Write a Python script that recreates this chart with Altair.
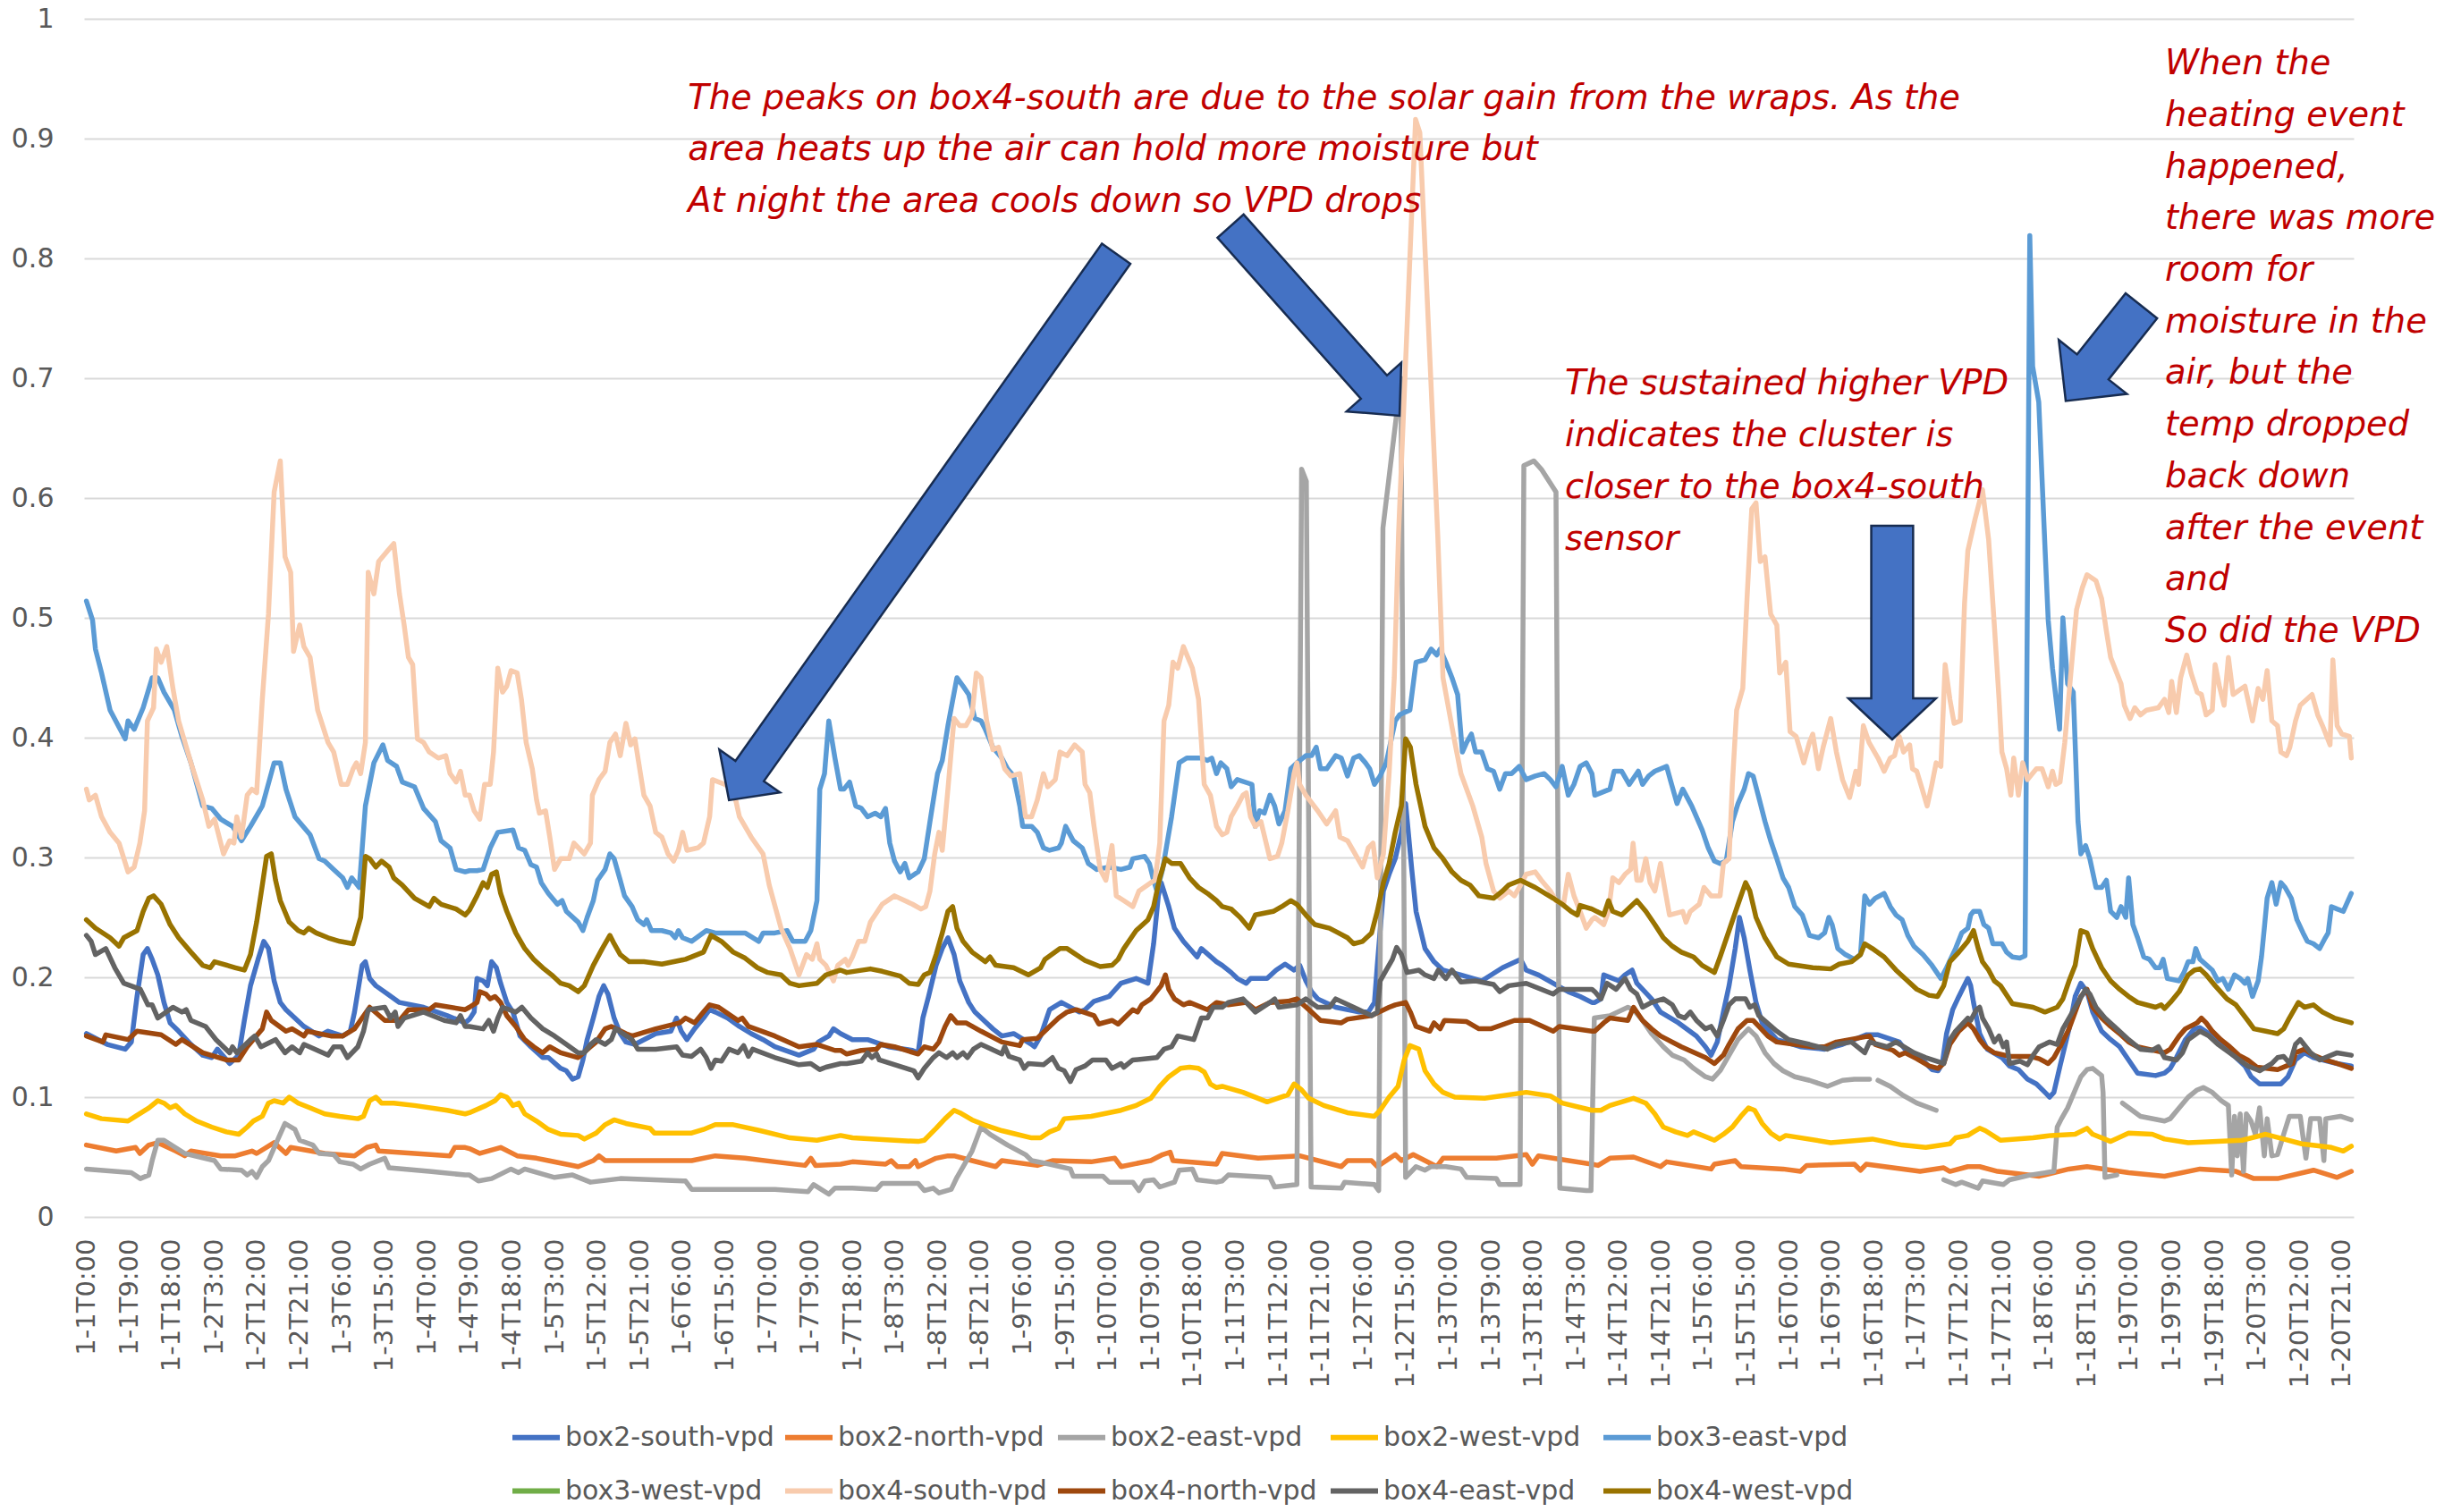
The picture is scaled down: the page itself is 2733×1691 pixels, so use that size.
import altair as alt
import pandas as pd

# ---------------- data (hour index, VPD) ----------------
SERIES = ["box2-south-vpd", "box2-north-vpd", "box2-east-vpd", "box2-west-vpd", "box3-east-vpd",
          "box3-west-vpd", "box4-south-vpd", "box4-north-vpd", "box4-east-vpd", "box4-west-vpd"]
COLORS = ["#4472C4", "#ED7D31", "#A5A5A5", "#FFC000", "#5B9BD5",
          "#70AD47", "#F8CBAD", "#9E480E", "#636363", "#997300"]

box2_south = [(0,.153),(4.4,.144),(8.2,.140),(9.5,.146),(10.7,.184),(12.0,.219),(12.9,.224),(13.9,.215),(15.1,.202),(16.4,.179),(17.7,.162),(19.5,.155),(22.1,.144),(24.6,.135),(26.5,.133),(27.7,.140),(30.3,.128),(32.2,.135),(33.4,.164),(34.7,.193),(36.3,.215),(37.5,.230),(38.5,.224),(39.7,.197),(41.0,.179),(42.2,.173),(46.0,.159),(49.2,.151),(51.1,.155),(54.2,.151),(55.8,.155),(56.7,.171),(58.3,.210),(59.0,.213),(59.9,.199),(61.2,.193),(63.7,.186),(66.2,.179),(71.3,.175),(76.3,.168),(80.1,.162),
    (81.0,.165),(82.0,.171),(82.6,.199),(83.9,.197),(84.8,.193),(85.7,.213),(86.7,.208),(87.6,.195),(88.9,.179),(90.2,.171),(91.7,.151),(94.0,.142),(96.5,.133),(97.7,.133),(100.3,.124),(101.5,.122),(102.8,.115),(104.0,.117),(105.0,.131),(105.9,.148),(107.2,.166),(108.4,.184),(109.4,.193),(110.3,.186),(111.6,.166),(112.9,.153),(114.1,.146),(116.0,.144),(120.4,.153),(123.6,.155),(124.8,.166),(125.8,.155),(127.0,.148),(128.6,.157),(130.5,.166),(131.8,.173),(133.0,.171),(135.6,.166),(138.1,.159),(140.6,.153),(143.1,.148),(145.6,.142),(150.7,.135),(153.8,.140),(154.8,.146),(157.0,.151),(158.0,.157),(159.5,.153),
    (162.0,.148),(165.2,.148),(169.6,.142),(174.7,.139),(175.9,.137),(176.9,.166),(178.1,.184),(179.7,.210),(181.0,.224),(182.2,.233),(183.5,.219),(184.7,.197),(186.6,.179),(187.9,.171),(189.8,.164),(191.7,.157),(193.6,.151),(196.1,.153),(199.9,.144),(200.5,.142),(201.8,.151),(203.7,.173),(206.2,.179),(210.0,.171),(211.2,.173),(213.1,.180),(216.3,.184),(218.8,.195),(222.0,.199),(224.5,.195),(225.7,.228),(226.7,.268),(227.3,.279),(228.9,.259),(230.1,.241),(232.0,.230),(234.9,.217),(235.8,.224),(239.0,.213),
    (240.2,.210),(242.1,.204),(243.4,.199),(245.3,.195),(246.2,.199),(249.7,.199),(251.6,.206),(253.5,.211),(255.4,.206),(256.6,.210),(257.9,.197),(259.1,.188),(260.4,.182),(264.2,.175),(269.2,.171),(271.1,.171),(272.4,.179),(273.0,.210),(274.3,.272),(275.5,.286),(276.8,.299),(278.1,.321),(279.0,.345),(280.3,.290),(281.2,.255),(283.1,.224),(285.0,.213),(286.9,.206),(290.7,.202),(295.1,.197),(299.5,.208),(303.3,.215),(304.5,.206),(307.1,.202),(310.2,.195),(313.4,.188),(315.9,.184),(318.4,.179),
    (319.0,.179),(320.3,.182),(320.9,.202),(324.1,.197),(325.4,.202),(326.9,.206),(327.9,.195),(331.0,.182),(332.9,.171),(336.7,.162),(340.5,.151),(342.4,.142),(343.6,.135),(344.9,.146),(346.2,.171),(347.4,.193),(348.7,.224),(349.6,.250),(350.6,.233),(351.8,.206),(353.1,.179),(354.4,.162),(357.5,.148),(362.5,.142),(367.6,.140),(371.4,.144),(376.4,.152),(378.9,.152),(383.4,.146),(385.2,.137),(387.8,.133),(390.3,.123),(391.6,.122),(392.5,.128),(393.4,.153),(394.7,.173),(396.0,.184),(397.9,.199),
    (398.5,.193),(399.1,.179),(400.4,.153),(402.0,.140),(405.1,.133),(406.7,.126),(408.6,.123),(410.5,.115),(412.4,.111),(414.2,.104),(415.2,.100),(416.1,.104),(417.4,.126),(419.3,.157),(420.6,.184),(421.8,.195),(423.1,.188),(424.3,.171),(426.2,.155),(428.1,.148),(430.0,.142),(431.9,.131),(433.8,.120),(437.6,.118),(439.5,.120),(440.7,.124),(442.0,.133),(443.9,.148),(445.8,.157),(447.0,.158),(448.9,.153),(450.8,.146),(454.6,.133),(456.5,.126),(457.8,.117),(459.6,.111),(464.1,.111),(465.6,.117),(467.2,.131),(469.1,.137),(471.0,.133),(476.0,.128),(479.0,.126)]

box2_north = [(0,.060),(6.3,.055),(10.4,.058),(11.3,.053),(13.2,.060),(15.1,.062),(18.9,.055),(20.8,.051),(22.1,.055),(28.4,.051),(31.5,.051),(35.0,.055),(36.0,.053),(39.7,.062),(42.2,.053),(43.2,.058),(50.4,.053),(56.7,.051),(59.3,.058),(61.2,.060),(61.8,.055),(69.4,.053),(76.9,.051),(77.9,.058),(80.1,.058),
    (81.0,.057),(83.2,.053),(87.6,.058),(91.1,.051),(95.2,.049),(97.7,.047),(104.0,.042),(107.2,.047),(108.4,.051),(109.7,.047),(120.4,.047),(128.0,.047),(133.0,.051),(139.3,.049),(145.6,.046),(152.0,.043),(153.2,.049),(154.2,.043),(159.5,.044),
    (162.0,.046),(169.0,.044),(170.2,.047),(171.5,.042),(174.0,.042),(175.3,.047),(175.9,.042),(179.7,.049),(182.2,.051),(183.5,.051),(187.3,.047),(192.3,.042),(193.6,.047),(201.1,.043),(204.3,.047),(212.5,.046),(217.5,.049),(218.8,.042),(225.1,.047),(227.6,.052),(229.2,.054),(229.8,.047),(239.0,.044),
    (240.2,.053),(247.8,.049),(256.6,.051),(265.4,.042),(266.7,.047),(271.8,.047),(273.0,.042),(276.8,.052),(278.1,.047),(280.6,.052),(285.6,.042),(286.9,.049),(298.2,.049),(304.5,.052),(305.8,.044),(307.1,.051),(318.4,.044),
    (319.7,.043),(322.2,.049),(327.2,.050),(332.9,.042),(334.2,.046),(343.6,.040),(344.3,.044),(348.7,.047),(349.9,.042),(358.8,.040),(362.5,.038),(363.8,.043),(373.9,.044),(375.2,.039),(376.4,.044),(387.8,.038),(392.8,.041),(394.1,.038),(397.9,.042),
    (400.4,.042),(404.2,.038),(413.0,.034),(419.3,.040),(423.1,.042),(431.9,.037),(439.5,.034),(447.0,.040),(454.6,.038),(458.4,.032),(463.4,.032),(471.0,.039),(476.0,.033),(479.0,.038)]

# None marks a break in the line (missing readings)
box2_east = [(0,.040),(9.5,.037),(11.4,.032),(13.2,.035),(13.9,.047),(15.1,.064),(16.4,.064),(20.8,.053),(27.1,.047),(28.4,.040),(32.8,.039),(34.0,.035),(35.0,.038),(36.0,.033),(37.2,.042),(38.5,.047),(40.4,.064),(42.0,.078),(44.1,.073),(45.1,.064),(47.9,.060),(49.2,.053),(52.3,.052),(53.6,.046),(56.4,.044),(58.0,.040),(59.9,.044),(63.1,.049),(64.0,.041),(72.5,.038),(80.1,.035),
    (81.0,.035),(82.9,.030),(85.7,.032),(89.8,.040),(91.4,.037),(92.7,.040),(99.0,.033),(102.8,.035),(106.6,.029),(112.9,.032),(126.7,.030),(128.0,.023),(145.6,.023),(152.6,.021),(153.8,.027),(157.0,.019),(158.3,.024),
    (162.0,.024),(167.1,.023),(168.3,.028),(175.9,.028),(177.2,.022),(179.1,.024),(180.3,.020),(182.9,.023),(184.1,.033),(187.3,.055),(189.2,.075),(191.1,.069),(194.8,.060),(198.6,.052),(199.9,.047),(203.7,.044),(208.1,.040),(208.7,.034),(215.0,.034),(216.3,.029),(221.3,.029),(222.6,.022),(223.8,.030),(225.7,.031),(227.0,.025),(230.1,.029),(231.1,.039),(233.9,.040),(234.9,.031),(239.0,.029),
    (240.2,.030),(241.5,.035),(250.3,.033),(251.3,.025),(256.0,.027),(257.0,.624),(258.0,.614),(259.0,.025),(265.4,.024),(266.1,.029),(272.4,.027),(273.3,.022),(274.2,.575),(278.0,.700),(279.0,.033),(281.2,.042),(283.1,.039),(284.4,.042),(287.5,.042),(290.7,.040),(291.9,.033),(298.2,.032),(298.9,.027),(303.2,.027),(304.0,.627),(306.1,.631),(307.7,.624),(310.8,.605),(311.6,.024),(317.2,.022),
    (318.2,.022),(318.9,.166),(322.2,.168),(326.0,.175),(327.2,.173),(329.1,.164),(331.0,.153),(333.5,.142),(335.4,.135),(337.9,.131),(339.9,.124),(342.4,.117),(343.9,.115),(345.5,.122),(347.4,.135),(349.3,.148),(351.5,.157),(353.1,.151),(355.0,.137),(356.9,.128),(358.8,.122),(361.3,.117),(364.4,.114),(368.2,.109),(369.5,.111),(371.4,.114),(373.9,.115),(377.1,.115),
    (378.0,None),
    (378.9,.114),(381.5,.109),(384.0,.102),(387.1,.095),(391.2,.089),
    (392.0,None),
    (392.8,.031),(395.3,.027),(396.6,.029),(400.1,.024),(401.0,.030),(405.4,.027),(406.7,.031),(411.1,.035),(416.1,.038),(416.8,.075),(417.7,.082),(419.0,.091),(420.6,.106),(421.8,.117),(423.1,.123),(424.3,.124),(426.2,.118),(426.5,.104),(426.9,.033),(429.4,.035),
    (430.0,None),
    (430.6,.095),(434.4,.084),(439.5,.080),(440.7,.082),(442.6,.091),(444.5,.100),(446.4,.106),(447.7,.108),(449.6,.104),(451.5,.097),(453.0,.093),(453.7,.035),(454.3,.084),(454.9,.051),(455.5,.086),(456.2,.038),(456.8,.086),(457.8,.080),(458.7,.069),(459.6,.091),(460.6,.051),(461.2,.082),(462.2,.051),(463.4,.052),(464.7,.069),(465.9,.084),(468.2,.084),(469.4,.049),(470.4,.082),(472.3,.082),(473.2,.047),(473.6,.082),(476.7,.084),(479.0,.081)]

box2_west = [(0,.086),(3.2,.082),(8.8,.080),(10.4,.084),(13.2,.091),(15.1,.097),(16.4,.095),(17.7,.091),(18.9,.093),(20.8,.086),(23.3,.080),(26.5,.075),(29.6,.071),(32.2,.069),(34.0,.075),(35.3,.080),(37.2,.084),(38.5,.095),(39.7,.097),(41.6,.095),(42.9,.100),(44.8,.095),(47.3,.091),(50.4,.086),(53.6,.084),(57.4,.082),(58.6,.084),(59.9,.097),(61.2,.100),(62.4,.095),(65.0,.095),(69.4,.093),(76.3,.089),(80.1,.086),
    (81.0,.087),(84.5,.093),(86.4,.097),(87.6,.102),(88.9,.100),(90.2,.093),(91.4,.095),(92.7,.086),(95.2,.080),(97.7,.073),(100.3,.069),(104.0,.068),(105.3,.065),(107.8,.070),(109.7,.077),(111.6,.081),(114.1,.078),(119.2,.074),(120.1,.070),(128.0,.070),(130.5,.073),(133.0,.077),(136.8,.077),(142.5,.072),(148.8,.066),(154.5,.064),(159.5,.068),
    (162.0,.066),(170.9,.064),(175.9,.063),(177.2,.064),(179.7,.074),(181.6,.082),(183.5,.089),(184.7,.087),(187.3,.081),(189.8,.077),(193.6,.072),(196.7,.069),(199.9,.066),(201.8,.066),(203.7,.071),(205.6,.074),(206.8,.082),(212.5,.084),(218.8,.089),(222.0,.093),(225.1,.099),(227.0,.109),(228.9,.117),(231.4,.124),(233.3,.125),(235.2,.124),(236.4,.121),(237.7,.111),(239.0,.108),
    (240.2,.109),(244.6,.104),(249.7,.096),(254.1,.102),(255.4,.111),(257.0,.106),(258.5,.099),(261.7,.093),(266.7,.087),(272.4,.084),(273.6,.089),(275.5,.100),(277.4,.109),(278.7,.131),(279.9,.143),(281.8,.140),(283.1,.122),(285.0,.111),(286.9,.104),(289.4,.100),(295.7,.099),(304.5,.104),(309.6,.101),(312.1,.095),(318.4,.089),
    (320.3,.089),(322.2,.093),(327.2,.099),(329.8,.095),(331.7,.086),(333.5,.075),(336.1,.071),(338.6,.068),(339.9,.071),(344.3,.064),(346.2,.069),(348.1,.075),(349.9,.084),(351.5,.091),(352.8,.089),(354.4,.078),(356.2,.070),(358.1,.065),(359.4,.068),(368.9,.062),(377.7,.065),(384.0,.060),(389.0,.058),(394.1,.061),(395.3,.066),(397.9,.068),
    (399.1,.071),(400.4,.074),(401.6,.072),(404.8,.064),(411.7,.066),(415.5,.068),(420.6,.069),(423.1,.074),(424.3,.069),(428.1,.063),(431.9,.070),(436.9,.069),(439.5,.065),(444.5,.062),(455.9,.064),(460.9,.069),(468.5,.061),(474.8,.058),(477.3,.055),(479.0,.059)]

box3_east = [(0,.514),(1.3,.498),(1.9,.474),(3.2,.454),(5.0,.423),(8.2,.399),(8.8,.414),(10.1,.407),(12.0,.425),(13.9,.450),(15.1,.450),(16.4,.438),(18.6,.423),(20.2,.401),(22.1,.379),(24.6,.343),(26.5,.341),(28.4,.332),(30.9,.326),(32.8,.314),(34.7,.326),(37.2,.343),(39.7,.379),(41.0,.379),(42.2,.357),(44.1,.334),(47.3,.319),(49.2,.299),(50.4,.297),(52.3,.290),(54.2,.283),(55.2,.275),(56.1,.283),(57.7,.275),(59.0,.343),(60.8,.379),(62.7,.394),(63.7,.381),(65.6,.376),(66.8,.363),(69.4,.359),(71.3,.341),(73.8,.330),(75.0,.314),(76.9,.308),(78.2,.290),(80.1,.288),
    (81.0,.289),(82.6,.289),(83.9,.290),(85.4,.308),(87.0,.321),(90.2,.323),(91.4,.308),(92.7,.306),(94.0,.294),(95.2,.292),(96.2,.279),(97.7,.270),(99.6,.261),(100.6,.264),(101.5,.255),(104.0,.246),(105.0,.239),(105.9,.250),(107.2,.264),(108.1,.281),(109.7,.290),(110.7,.303),(111.6,.299),(112.9,.281),(113.8,.268),(115.4,.259),(116.6,.248),(117.9,.244),(118.5,.248),(119.5,.239),(121.7,.239),(123.6,.237),(124.5,.233),(125.2,.239),(126.1,.233),(128.0,.230),(131.1,.239),(133.0,.237),(139.3,.237),(142.2,.230),(143.1,.237),(145.6,.237),(148.2,.239),(149.4,.230),(152.0,.230),(153.2,.239),(154.5,.264),(155.1,.357),(156.1,.370),(157.0,.414),(158.3,.383),(159.5,.357),
    (160.2,.357),(161.4,.363),(162.7,.343),(163.9,.341),(165.2,.334),(166.8,.337),(168.0,.334),(169.0,.341),(169.9,.312),(170.9,.297),(172.1,.288),(173.1,.295),(174.0,.283),(175.9,.288),(177.2,.299),(178.4,.330),(180.0,.370),(181.0,.381),(182.2,.410),(184.1,.450),(185.4,.443),(186.6,.436),(187.9,.416),(189.2,.414),(190.1,.407),(191.7,.392),(193.6,.383),(194.8,.374),(196.1,.368),(197.4,.343),(198.0,.326),(199.9,.326),(201.1,.321),(202.4,.308),(203.7,.306),(205.6,.308),(206.2,.312),(207.1,.326),(208.7,.314),(210.6,.308),(211.9,.295),(213.7,.290),(216.3,.292),(218.8,.290),(220.7,.292),(221.3,.299),(223.8,.301),(224.8,.295),(225.7,.281),(226.4,.272),(227.6,.290),(229.5,.334),(231.1,.379),(232.7,.383),(235.8,.383),(237.1,.381),(238.0,.383),(239.0,.370),
    (239.9,.379),(241.2,.374),(242.1,.359),(243.4,.365),(246.5,.361),(247.2,.326),(248.1,.339),(249.1,.337),(250.3,.352),(251.3,.343),(252.2,.328),(253.5,.339),(254.7,.374),(256.0,.379),(257.9,.385),(259.1,.385),(260.1,.392),(261.0,.374),(262.3,.374),(264.2,.385),(265.4,.383),(266.7,.368),(268.0,.383),(269.2,.385),(270.5,.379),(271.4,.374),(272.4,.361),(273.6,.368),(274.9,.379),(276.8,.414),(277.7,.419),(278.7,.421),(279.9,.423),(281.2,.463),(283.1,.465),(284.4,.474),(285.6,.469),(286.3,.474),(287.5,.463),(288.8,.450),(290.0,.436),(291.0,.388),(291.9,.396),(292.9,.403),(293.8,.388),(295.1,.388),(296.3,.374),(297.6,.372),(298.9,.357),(300.1,.370),(301.4,.370),(303.0,.376),(304.5,.365),(306.4,.368),(308.3,.370),(309.6,.365),(310.8,.359),(312.1,.376),(313.4,.352),(314.6,.361),(315.9,.376),(317.2,.379),(318.4,.370),
    (319.0,.352),(322.2,.357),(323.1,.372),(324.7,.372),(326.3,.361),(328.2,.372),(329.1,.361),(330.4,.368),(331.7,.372),(334.2,.376),(335.1,.363),(336.4,.345),(337.6,.357),(339.5,.343),(341.7,.323),(343.0,.308),(344.3,.297),(345.5,.295),(346.8,.297),(348.1,.330),(349.3,.345),(350.6,.357),(351.5,.370),(352.5,.368),(353.7,.350),(355.0,.330),(356.2,.314),(357.5,.299),(358.8,.283),(360.0,.275),(361.3,.259),(362.9,.252),(364.4,.235),(366.3,.233),(367.6,.237),(368.5,.250),(369.2,.244),(370.4,.224),(372.0,.219),(373.9,.215),(375.2,.219),(376.1,.268),(377.1,.261),(378.3,.266),(380.2,.270),(381.5,.259),(382.7,.252),(384.0,.248),(385.2,.235),(386.5,.226),(388.4,.219),(390.3,.210),(392.2,.199),(393.4,.208),(395.3,.224),(396.6,.237),(397.9,.241),
    (398.5,.252),(399.1,.255),(400.4,.255),(401.3,.244),(402.3,.241),(403.2,.228),(405.1,.228),(406.1,.221),(407.3,.217),(408.9,.216),(410.0,.218),(411.0,.819),(411.6,.710),(412.9,.680),(414.2,.560),(414.9,.498),(415.8,.458),(417.3,.407),(418.0,.500),(419.0,.445),(420.2,.438),(421.2,.330),(421.8,.303),(422.8,.310),(423.7,.299),(425.0,.275),(426.2,.275),(427.2,.281),(428.1,.255),(429.4,.250),(430.3,.259),(431.3,.250),(431.9,.283),(432.8,.244),(433.8,.233),(435.1,.217),(436.3,.215),(437.6,.208),(438.5,.208),(439.2,.215),(440.1,.199),(442.6,.197),(443.6,.204),(444.5,.213),(445.5,.213),(446.1,.224),(447.0,.215),(449.6,.206),(450.8,.197),(451.8,.199),(453.0,.190),(454.3,.202),(455.5,.199),(456.5,.195),(457.1,.199),(458.1,.184),(459.3,.197),(460.0,.217),(460.6,.241),(461.2,.266),(462.2,.279),(463.1,.261),(464.1,.279),(465.0,.275),(466.3,.266),(467.5,.248),(468.8,.237),(469.7,.230),(471.0,.228),(472.3,.224),(473.5,.233),(474.1,.237),(474.8,.259),(476.0,.257),(477.3,.255),(479.0,.270)]

box3_west = []  # listed in the legend, no readings drawn

box4_south = [(0,.357),(0.6,.348),(1.9,.352),(3.2,.334),(5.0,.321),(6.9,.312),(8.8,.288),(10.1,.292),(11.3,.312),(12.3,.339),(12.9,.414),(14.2,.425),(14.8,.474),(15.8,.463),(17.0,.476),(18.3,.441),(19.5,.414),(22.1,.379),(24.6,.348),(25.9,.326),(27.1,.332),(29.0,.303),(30.3,.314),(31.2,.312),(31.8,.334),(32.8,.317),(34.0,.352),(35.0,.357),(36.0,.354),(37.2,.432),(38.5,.503),(39.7,.605),(41.0,.631),(42.0,.551),(43.2,.538),(43.8,.472),(45.1,.494),(46.0,.476),(47.3,.467),(48.9,.423),(51.1,.396),(52.3,.388),(53.9,.361),(55.2,.361),(56.4,.374),(57.1,.379),(58.0,.370),(59.0,.396),(59.6,.538),(60.8,.520),(61.8,.547),(63.7,.556),(65.0,.562),(66.2,.520),(67.2,.494),(68.1,.467),(69.0,.461),(70.0,.399),(71.3,.396),(72.5,.388),(74.4,.383),(76.0,.385),(76.9,.370),(78.2,.363),(79.1,.372),(80.1,.352),
    (81.0,.352),(82.0,.339),(83.2,.332),(84.2,.361),(85.4,.361),(86.1,.388),(87.0,.458),(88.0,.438),(88.9,.443),(89.8,.456),(91.1,.454),(92.0,.432),(93.0,.396),(94.3,.374),(95.2,.348),(95.8,.337),(97.1,.339),(98.0,.317),(99.0,.290),(100.3,.299),(102.1,.299),(103.1,.312),(105.3,.303),(106.6,.312),(107.0,.352),(108.4,.365),(109.7,.372),(110.7,.396),(111.9,.403),(112.9,.385),(114.1,.412),(115.1,.394),(116.0,.399),(117.9,.352),(119.2,.343),(120.4,.321),(121.7,.317),(123.0,.303),(124.2,.297),(125.2,.306),(126.1,.321),(127.0,.306),(129.3,.308),(130.5,.312),(131.8,.334),(132.4,.365),(135.0,.361),(136.8,.357),(138.1,.334),(140.6,.317),(143.1,.303),(144.4,.277),(146.9,.241),(148.8,.224),(150.7,.202),(152.3,.219),(153.5,.215),(154.5,.228),(155.1,.215),(156.4,.210),(158.0,.197),(158.9,.210),
    (160.5,.215),(161.1,.210),(162.0,.217),(163.3,.230),(164.6,.230),(165.8,.246),(168.3,.261),(170.9,.268),(174.7,.261),(176.5,.257),(177.5,.259),(178.4,.272),(179.4,.303),(180.3,.321),(181.0,.306),(182.2,.357),(183.5,.416),(184.7,.410),(186.0,.410),(187.3,.419),(188.2,.454),(189.2,.450),(190.4,.414),(191.7,.390),(192.9,.392),(194.2,.374),(195.5,.368),(197.4,.370),(198.6,.334),(199.9,.334),(201.1,.348),(202.4,.370),(203.3,.359),(204.9,.365),(205.9,.388),(207.4,.385),(209.0,.394),(210.6,.388),(211.2,.361),(212.2,.354),(213.1,.326),(214.4,.290),(215.6,.281),(216.9,.310),(217.8,.268),(219.4,.264),(221.3,.259),(222.6,.272),(225.1,.279),(226.0,.281),(227.0,.312),(227.9,.414),(228.9,.427),(229.8,.463),(230.8,.458),(232.0,.476),(233.9,.458),(235.2,.432),(236.4,.361),(237.7,.352),(239.0,.326),
    (240.2,.319),(241.2,.321),(242.1,.334),(243.4,.343),(244.6,.352),(245.3,.354),(246.2,.334),(247.2,.326),(248.4,.330),(250.3,.299),(251.9,.301),(252.8,.312),(254.1,.339),(255.4,.370),(256.0,.379),(256.6,.361),(257.9,.352),(260.4,.339),(262.3,.328),(264.2,.339),(265.1,.317),(266.7,.314),(268.3,.303),(269.9,.292),(271.1,.308),(272.1,.312),(273.0,.283),(274.3,.303),(275.5,.370),(276.6,.450),(277.5,.570),(281.1,.916),(282.0,.905),(285.8,.568),(286.9,.450),(289.4,.396),(290.7,.370),(293.2,.343),(295.1,.317),(296.0,.295),(297.6,.272),(298.9,.266),(300.8,.272),(302.0,.268),(303.3,.277),(304.5,.286),(306.4,.288),(307.7,.281),(309.6,.272),(310.8,.264),(312.4,.261),(313.4,.286),(314.6,.268),(315.9,.255),(317.2,.241),(318.4,.248),
    (319.0,.250),(320.9,.244),(321.9,.255),(322.8,.283),(324.1,.279),(325.4,.286),(326.6,.290),(327.1,.312),(327.9,.281),(328.8,.281),(329.8,.299),(330.7,.279),(331.7,.272),(332.9,.295),(333.9,.272),(334.8,.252),(337.6,.255),(338.3,.246),(339.2,.255),(341.1,.261),(342.1,.275),(343.6,.268),(345.5,.268),(346.2,.295),(347.4,.299),(348.1,.361),(349.0,.423),(350.3,.441),(351.2,.516),(352.2,.591),(353.1,.596),(354.0,.547),(355.0,.551),(356.2,.503),(357.5,.494),(358.1,.454),(359.4,.463),(360.3,.405),(361.6,.401),(363.2,.379),(364.4,.396),(365.1,.403),(366.3,.374),(367.3,.392),(368.9,.416),(370.1,.388),(371.4,.365),(372.9,.350),(374.2,.372),(374.8,.361),(375.8,.410),(377.0,.396),(378.9,.383),(380.2,.372),(381.5,.383),(382.4,.385),(383.4,.401),(384.3,.388),(385.6,.394),(386.2,.374),(387.1,.372),(388.1,.359),(389.3,.343),(390.3,.361),(391.2,.379),(392.2,.376),(393.1,.461),(394.1,.432),(395.0,.412),(396.3,.414),(397.2,.512),(397.9,.556),
    (399.4,.582),(401.0,.607),(402.3,.565),(403.5,.494),(404.5,.432),(405.1,.388),(406.1,.374),(407.0,.352),(407.6,.383),(408.6,.352),(409.5,.379),(410.5,.365),(412.4,.374),(413.6,.374),(414.9,.359),(415.8,.372),(416.5,.361),(417.4,.363),(418.4,.396),(419.6,.450),(420.9,.507),(422.1,.525),(423.1,.536),(425.0,.531),(426.2,.516),(427.2,.489),(428.1,.467),(429.4,.454),(430.3,.445),(431.0,.427),(432.2,.416),(433.2,.425),(434.4,.419),(435.7,.423),(438.2,.425),(439.5,.432),(440.4,.421),(441.0,.447),(442.0,.421),(442.9,.450),(444.2,.469),(445.1,.454),(446.4,.438),(447.3,.436),(448.3,.419),(449.6,.423),(450.2,.461),(451.1,.443),(452.1,.427),(453.0,.467),(454.0,.436),(456.5,.443),(457.4,.427),(458.1,.414),(459.3,.441),(460.3,.432),(461.2,.456),(462.2,.414),(463.4,.410),(464.1,.388),(465.3,.385),(466.0,.392),(467.2,.414),(468.2,.427),(470.7,.436),(471.9,.419),(472.9,.410),(474.5,.394),(475.1,.465),(476.0,.410),(477.0,.403),(478.6,.401),(479.0,.383)]

box4_north = [(0,.151),(3.5,.146),(4.1,.152),(8.8,.148),(10.7,.155),(15.8,.152),(18.9,.144),(20.2,.148),(24.6,.137),(29.6,.131),(32.2,.131),(34.0,.142),(37.2,.157),(38.1,.171),(39.1,.164),(42.2,.155),(43.5,.157),(46.0,.151),(46.7,.155),(51.7,.151),(54.2,.151),(56.7,.157),(59.9,.175),(63.1,.164),(66.2,.164),(68.1,.173),(72.5,.173),(73.8,.177),(80.1,.173),
    (81.0,.175),(82.6,.179),(83.2,.188),(84.5,.186),(85.4,.182),(86.4,.184),(87.6,.179),(88.9,.168),(90.8,.159),(92.7,.148),(94.6,.142),(96.5,.137),(98.0,.142),(100.3,.137),(104.0,.133),(106.6,.142),(107.8,.146),(109.7,.157),(111.0,.159),(114.1,.153),(115.4,.151),(120.4,.157),(125.5,.162),(126.7,.166),(128.6,.162),(130.5,.171),(131.8,.177),(133.7,.175),(137.8,.164),(138.7,.166),(140.0,.159),(145.6,.151),(150.7,.142),(154.5,.144),(158.3,.139),(159.5,.139),
    (160.8,.136),(163.9,.139),(167.1,.140),(168.0,.144),(170.9,.142),(175.9,.136),(177.2,.142),(179.1,.140),(180.3,.146),(181.6,.159),(182.8,.168),(184.1,.162),(186.0,.162),(189.2,.155),(193.6,.146),(197.4,.143),(198.0,.148),(201.1,.149),(203.7,.159),(205.6,.166),(207.4,.171),(209.3,.173),(213.1,.168),(214.1,.161),(216.9,.164),(218.2,.161),(221.3,.173),(222.3,.171),(223.2,.177),(225.1,.182),(227.3,.193),(228.2,.202),(228.9,.190),(230.1,.182),(232.0,.177),(233.3,.179),(237.1,.173),(239.0,.179),
    (241.5,.177),(245.3,.179),(247.2,.173),(250.3,.179),(254.1,.180),(256.0,.182),(259.1,.171),(261.0,.164),(265.4,.162),(266.7,.165),(271.8,.168),(275.5,.175),(276.8,.177),(279.0,.179),(280.0,.171),(281.2,.159),(284.1,.155),(285.0,.162),(286.3,.157),(287.2,.164),(291.9,.163),(294.5,.157),(297.0,.157),(302.0,.164),(305.2,.164),(310.2,.155),(311.5,.159),(318.4,.155),
    (319.0,.155),(320.9,.162),(322.2,.166),(326.0,.164),(327.2,.175),(329.1,.164),(331.0,.157),(332.9,.151),(337.3,.142),(342.4,.133),(344.3,.128),(346.2,.135),(347.4,.144),(349.3,.157),(351.2,.164),(352.5,.164),(353.7,.159),(355.6,.151),(357.5,.146),(365.1,.142),(367.6,.142),(370.1,.146),(377.1,.151),(378.3,.144),(382.1,.139),(383.4,.135),(384.6,.137),(387.1,.132),(389.7,.126),(391.6,.124),(392.8,.128),(394.1,.144),(396.0,.155),(397.9,.162),
    (399.1,.157),(400.4,.148),(401.6,.142),(403.5,.137),(406.7,.134),(411.1,.134),(413.0,.132),(414.9,.128),(416.1,.133),(417.4,.142),(419.3,.157),(420.6,.171),(421.8,.184),(423.1,.190),(424.3,.175),(426.2,.166),(428.1,.159),(430.0,.153),(431.9,.146),(433.8,.142),(439.5,.137),(440.7,.140),(442.6,.151),(443.9,.157),(446.4,.162),(447.3,.166),(448.3,.162),(449.6,.155),(451.4,.148),(453.3,.142),(455.2,.135),(457.1,.131),(459.0,.125),(463.4,.123),(465.3,.126),(466.6,.128),(467.2,.137),(469.1,.140),(471.0,.135),(473.5,.131),(476.0,.128),(479.0,.124)]

box4_east = [(0,.235),(1.0,.230),(1.9,.219),(4.1,.224),(6.0,.208),(7.9,.195),(11.4,.190),(13.0,.177),(13.9,.177),(15.1,.166),(18.3,.175),(20.2,.171),(21.1,.173),(22.1,.164),(25.2,.159),(27.4,.148),(30.3,.137),(30.9,.142),(31.8,.137),(34.7,.148),(35.6,.151),(36.9,.142),(40.0,.148),(42.0,.137),(43.5,.142),(45.1,.137),(46.0,.144),(51.1,.135),(52.3,.142),(53.9,.142),(55.2,.133),(57.4,.142),(58.6,.155),(59.6,.173),(63.1,.175),(64.3,.166),(65.3,.171),(65.9,.159),(67.2,.166),(71.3,.171),(75.7,.164),(78.2,.162),(79.1,.168),(80.1,.159),
    (81.0,.159),(83.9,.157),(85.1,.164),(86.1,.155),(87.0,.166),(88.0,.175),(90.8,.171),(92.1,.175),(94.0,.166),(96.5,.157),(99.0,.151),(101.5,.144),(104.0,.137),(105.3,.137),(106.6,.144),(107.8,.148),(109.7,.144),(111.0,.148),(111.9,.157),(113.5,.153),(115.4,.148),(116.6,.140),(120.4,.140),(124.8,.142),(126.1,.135),(128.0,.134),(129.9,.140),(131.1,.133),(132.1,.124),(133.0,.131),(134.3,.130),(135.9,.140),(137.8,.137),(139.0,.143),(140.0,.134),(140.9,.140),(145.6,.133),(150.7,.127),(153.2,.128),(155.1,.123),(156.4,.125),(159.5,.128),
    (160.8,.128),(163.9,.130),(165.2,.137),(166.1,.133),(167.1,.136),(167.7,.131),(173.4,.124),(175.0,.122),(175.9,.116),(177.2,.124),(179.1,.133),(180.3,.137),(181.9,.133),(183.2,.137),(184.1,.133),(185.4,.137),(186.3,.133),(187.6,.140),(189.2,.144),(193.6,.136),(194.2,.142),(195.1,.134),(197.4,.131),(198.3,.124),(199.2,.128),(202.4,.127),(204.3,.133),(205.6,.124),(206.8,.122),(208.1,.113),(209.3,.123),(211.2,.126),(212.8,.131),(215.6,.131),(216.9,.124),(218.8,.128),(219.4,.125),(221.3,.131),(226.4,.133),(227.9,.140),(229.5,.142),(230.8,.151),(234.2,.148),(235.8,.166),(237.1,.166),(238.3,.175),(239.0,.175),
    (240.2,.175),(241.5,.179),(244.6,.182),(247.2,.171),(250.3,.179),(251.3,.182),(252.2,.175),(256.0,.177),(257.9,.182),(260.4,.175),(262.9,.175),(264.2,.182),(268.0,.175),(271.8,.168),(273.0,.171),(273.6,.197),(274.9,.206),(276.2,.215),(277.1,.225),(278.1,.219),(279.3,.204),(281.8,.206),(283.1,.202),(285.0,.199),(285.9,.206),(287.5,.199),(288.8,.206),(290.7,.196),(293.8,.197),(297.6,.194),(298.9,.188),(300.8,.193),(304.5,.195),(310.2,.186),(311.5,.190),(315.9,.190),(318.4,.190),
    (319.0,.188),(320.3,.182),(321.6,.195),(323.5,.190),(325.4,.199),(326.6,.190),(327.9,.186),(329.1,.175),(331.0,.179),(333.5,.182),(335.4,.177),(336.7,.168),(338.0,.166),(339.2,.171),(340.5,.164),(342.4,.157),(343.6,.159),(344.9,.151),(346.2,.164),(347.4,.177),(348.7,.182),(350.9,.182),(351.8,.175),(352.8,.177),(353.7,.168),(357.5,.155),(360.0,.148),(364.4,.144),(368.2,.140),(370.1,.144),(373.3,.146),(376.1,.137),(377.1,.146),(380.8,.142),(382.7,.146),(386.5,.137),(389.0,.133),(392.8,.128),(394.1,.148),(395.3,.155),(397.9,.166),
    (398.5,.164),(399.7,.173),(400.4,.175),(401.0,.166),(402.3,.157),(403.5,.146),(404.5,.151),(405.4,.142),(406.1,.146),(406.7,.128),(408.9,.130),(410.5,.127),(411.7,.135),(413.0,.142),(415.2,.146),(416.8,.144),(418.0,.157),(420.6,.175),(422.8,.190),(423.7,.186),(425.0,.175),(426.9,.166),(429.4,.157),(431.9,.148),(434.4,.140),(436.9,.139),(438.2,.142),(439.5,.133),(442.0,.131),(443.3,.137),(444.5,.148),(447.0,.155),(448.9,.151),(450.8,.144),(453.3,.137),(457.1,.126),(459.6,.122),(462.2,.128),(463.4,.133),(464.7,.134),(466.0,.128),(467.2,.144),(468.2,.148),(470.4,.137),(472.3,.131),(473.5,.133),(476.0,.137),(479.0,.135)]

box4_west = [(0,.248),(1.9,.241),(5.0,.233),(6.9,.226),(7.9,.233),(10.7,.239),(12.0,.255),(13.2,.266),(14.2,.268),(15.8,.261),(17.7,.244),(19.5,.233),(22.1,.221),(24.6,.210),(26.2,.208),(27.1,.213),(31.5,.208),(33.4,.206),(34.7,.219),(36.0,.246),(37.2,.277),(38.1,.301),(39.1,.303),(40.0,.281),(41.0,.264),(42.9,.246),(44.8,.239),(46.0,.237),(47.0,.241),(48.6,.237),(51.1,.233),(53.6,.230),(56.4,.228),(58.0,.250),(59.0,.301),(59.9,.299),(61.2,.292),(62.4,.297),(64.0,.292),(65.0,.283),(66.8,.277),(69.4,.266),(72.5,.259),(73.5,.266),(75.0,.261),(78.2,.257),(80.1,.252),
    (81.0,.256),(82.6,.268),(83.9,.279),(84.8,.275),(85.7,.286),(86.7,.288),(87.6,.270),(88.9,.255),(90.8,.237),(92.7,.224),(94.6,.215),(96.5,.208),(98.4,.202),(100.3,.195),(102.1,.193),(104.0,.188),(105.3,.193),(107.2,.210),(109.1,.224),(110.7,.235),(111.6,.228),(112.9,.219),(114.8,.213),(117.9,.213),(121.7,.211),(126.7,.215),(130.5,.221),(132.1,.235),(134.3,.230),(136.8,.221),(139.3,.216),(141.9,.208),(144.1,.204),(146.9,.202),(148.8,.195),(150.7,.193),(154.5,.195),(156.4,.202),(159.5,.206),
    (160.8,.204),(165.8,.207),(168.3,.205),(172.1,.201),(174.0,.195),(175.9,.194),(177.2,.202),(178.4,.204),(179.7,.219),(181.0,.237),(182.2,.255),(183.2,.259),(184.1,.241),(185.4,.230),(187.3,.221),(190.1,.213),(191.1,.217),(192.3,.210),(196.1,.208),(199.2,.202),(201.8,.208),(202.7,.215),(205.9,.224),(207.4,.224),(211.2,.214),(214.4,.209),(216.9,.210),(218.2,.215),(219.4,.224),(222.0,.239),(224.5,.248),(225.7,.259),(227.0,.283),(228.2,.299),(229.5,.295),(231.4,.295),(233.3,.283),(235.2,.275),(237.1,.270),(239.0,.264),
    (240.2,.259),(242.1,.257),(244.0,.250),(245.9,.241),(247.2,.252),(251.0,.255),(252.8,.259),(254.7,.264),(256.0,.261),(257.9,.252),(259.8,.244),(262.9,.241),(264.8,.237),(266.7,.233),(268.0,.228),(269.9,.230),(271.8,.237),(273.0,.255),(274.3,.279),(275.5,.295),(276.8,.321),(278.1,.343),(279.0,.399),(280.0,.392),(281.2,.361),(283.1,.326),(285.0,.308),(286.9,.299),(288.8,.288),(290.7,.281),(292.6,.277),(294.5,.268),(297.6,.266),(299.5,.272),(300.8,.277),(303.3,.281),(306.4,.275),(310.2,.266),(312.1,.261),(314.0,.255),(315.3,.252),(315.9,.260),(318.4,.257),
    (320.9,.252),(321.9,.264),(322.8,.255),(324.7,.252),(327.9,.264),(329.8,.255),(331.7,.244),(333.5,.233),(335.4,.226),(337.3,.221),(339.9,.217),(341.7,.210),(344.3,.204),(345.5,.217),(347.4,.239),(349.3,.261),(350.9,.279),(351.8,.272),(353.1,.250),(355.0,.233),(357.5,.217),(360.0,.211),(365.1,.208),(368.9,.207),(370.7,.211),(373.3,.213),(375.2,.219),(376.1,.228),(377.7,.224),(380.2,.217),(382.7,.206),(384.6,.199),(387.1,.190),(389.7,.185),(391.5,.184),(392.8,.193),(394.1,.213),(396.0,.221),(397.9,.230),
    (399.1,.239),(400.1,.224),(401.0,.213),(402.3,.206),(403.5,.197),(404.8,.193),(407.3,.178),(411.7,.175),(414.2,.171),(416.8,.175),(418.0,.182),(419.3,.197),(420.6,.210),(421.8,.239),(423.1,.237),(424.3,.224),(426.2,.208),(428.1,.197),(430.0,.190),(431.9,.184),(433.8,.179),(437.6,.175),(438.8,.177),(439.5,.174),(440.7,.179),(442.6,.188),(444.5,.202),(445.8,.206),(447.0,.207),(448.3,.202),(450.2,.193),(452.7,.182),(454.6,.177),(457.1,.164),(458.4,.157),(460.9,.155),(463.4,.153),(464.7,.157),(465.9,.166),(467.8,.179),(469.1,.175),(471.0,.177),(472.9,.171),(475.4,.166),(479.0,.162)]

SERIES_DATA = [box2_south, box2_north, box2_east, box2_west, box3_east,
               box3_west, box4_south, box4_north, box4_east, box4_west]

# annotation texts (red italic) and where their first line sits (hour, VPD, line step)
NOTE_1 = ["The peaks on box4-south are due to the solar gain from the wraps. As the",
          "area heats up the air can hold more moisture but",
          "At night the area cools down so VPD drops"]
NOTE_2 = ["The sustained higher VPD", "indicates the cluster is",
          "closer to the box4-south", "sensor"]
NOTE_3 = ["When the", "heating event", "happened,", "there was more", "room for",
          "moisture in the", "air, but the", "temp dropped", "back down",
          "after the event", "and", "So did the VPD"]
NOTES = [(NOTE_1, 127.2, 0.9335, 0.0428), (NOTE_2, 312.7, 0.6955, 0.0433), (NOTE_3, 439.6, 0.9625, 0.04306)]

# block arrows: tip position (hour, VPD) and outline path (px offsets from the tip)
ARROWS = [
    (135.9, 0.3478, "M0,0 L-10.8,-56.6 L7.2,-43.9 L417,-622.5 L448.8,-599.9 L39,-21.3 L57,-8.6 Z"),
    (277.7, 0.6687, "M0,0 L2,-59.4 L-14,-45.1 L-174.3,-225.1 L-203.5,-199.1 L-43.2,-19.1 L-59.2,-4.8 Z"),
    (381.9, 0.3985, "M0,0 L-49,-46 L-23.4,-46 L-23.4,-239 L23.4,-239 L23.4,-46 L49,-46 Z"),
    (418.6, 0.681, "M0,0 L-7.8,-68.3 L12.7,-52.1 L67,-120.5 L102.2,-92.5 L47.9,-24.1 L68.4,-7.9 Z"),
]

# ---------------- build tables ----------------
def series_frame(name, pts):
    rows, seg = [], 0
    for h, v in pts:
        if v is None:
            seg += 1
            continue
        rows.append({"series": name, "seg": seg, "hour": h, "vpd": v})
    return pd.DataFrame(rows, columns=["series", "seg", "hour", "vpd"])

FONT = "DejaVu Sans"
GREY = "#595959"

x_enc = alt.X("hour:Q",
              scale=alt.Scale(domain=[-0.5, 479.5], nice=False, zero=False),
              axis=alt.Axis(values=list(range(0, 480, 9)),
                            labelExpr="'1-' + (floor(datum.value / 24) + 1) + 'T' + (datum.value % 24) + ':00'",
                            labelAngle=270, labelFont=FONT, labelFontSize=29, labelColor=GREY,
                            labelPadding=24, labelOverlap=False, labelFlush=False, labelBound=False,
                            grid=False, domain=False, ticks=False, title=None))
y_enc = alt.Y("vpd:Q",
              scale=alt.Scale(domain=[0, 1], nice=False, zero=True),
              axis=alt.Axis(values=[round(i * 0.1, 1) for i in range(11)], format=".1~f",
                            labelFont=FONT, labelFontSize=30, labelColor=GREY, labelPadding=34,
                            grid=True, gridColor="#D9D9D9", gridWidth=2,
                            domain=False, ticks=False, title=None))

legend = alt.Legend(orient="none", legendX=476, legendY=1557, direction="horizontal", columns=5,
                    title=None, symbolType="stroke", symbolSize=2809, symbolStrokeWidth=6,
                    labelFont=FONT, labelFontSize=30, labelColor=GREY, labelLimit=600,
                    columnPadding=0, rowPadding=15, gridAlign="all", labelOffset=3, padding=0)
color_enc = alt.Color("series:N", scale=alt.Scale(domain=SERIES, range=COLORS), legend=legend)

layers = []
for name, pts in zip(SERIES, SERIES_DATA):
    df = series_frame(name, pts)
    if df.empty:
        continue
    layers.append(
        alt.Chart(df).mark_line(strokeWidth=5.5, strokeJoin="round", strokeCap="round")
        .encode(x=x_enc, y=y_enc, color=color_enc, detail="seg:N", order="hour:Q")
    )

for tip_h, tip_v, path in ARROWS:
    adf = pd.DataFrame({"hour": [tip_h], "vpd": [tip_v]})
    layers.append(
        alt.Chart(adf).mark_point(shape=path, size=4, filled=True, fill="#4472C4",
                                  stroke="#172C51", strokeWidth=2.5, opacity=1)
        .encode(x="hour:Q", y="vpd:Q")
    )

note_rows = []
for lines, h0, v0, dv in NOTES:
    for i, t in enumerate(lines):
        note_rows.append({"hour": h0, "vpd": v0 - i * dv, "txt": t})
layers.append(
    alt.Chart(pd.DataFrame(note_rows)).mark_text(align="left", baseline="middle", font=FONT,
                                                 fontSize=38.4, fontStyle="italic", color="#C00000")
    .encode(x="hour:Q", y="vpd:Q", text="txt:N")
)

chart = (alt.layer(*layers)
         .properties(width=2538, height=1340,
                     autosize=alt.AutoSizeParams(type="none"),
                     padding={"left": 86, "top": 13, "right": 93, "bottom": 322},
                     background="white")
         .configure_view(stroke=None))

chart.save("out.html", embed_options={"renderer": "svg", "actions": False})
